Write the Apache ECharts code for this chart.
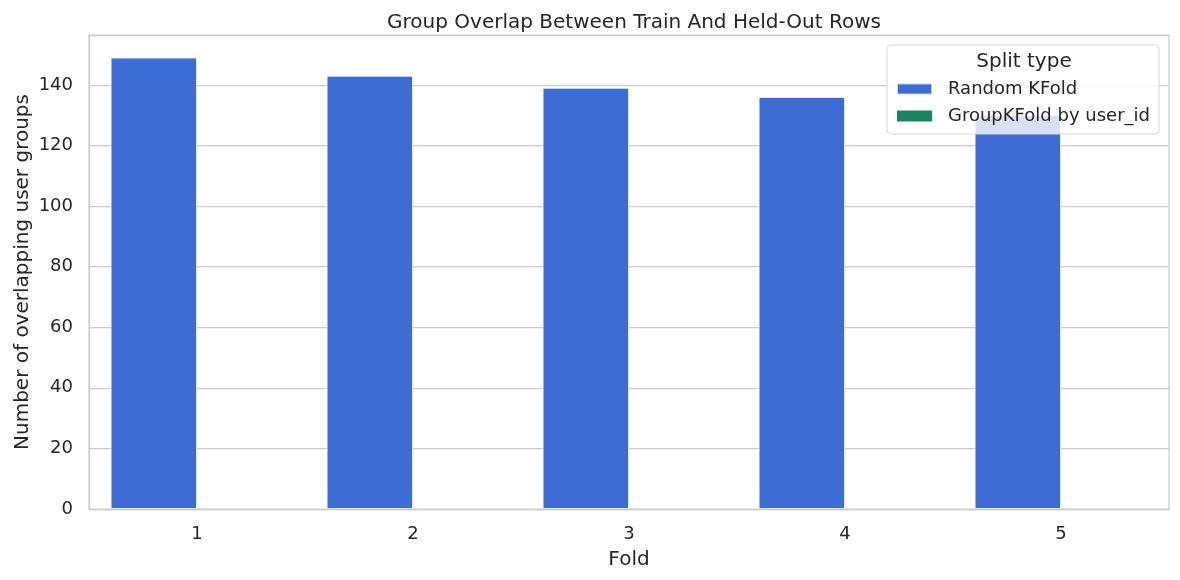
<!DOCTYPE html>
<html>
<head>
<meta charset="utf-8">
<script src="https://cdn.jsdelivr.net/npm/echarts@6/dist/echarts.min.js"></script>
<style>html,body{margin:0;padding:0;background:#fff}#c{width:1180px;height:580px}</style>
</head>
<body>
<div id="c"></div>
<script>
const folds = ['1', '2', '3', '4', '5'];
const randomKFold = [149, 143, 139, 136, 130];
const groupKFold = [0, 0, 0, 0, 0];
const seriesNames = ['Random KFold', 'GroupKFold by user_id'];
const yTicks = [0, 20, 40, 60, 80, 100, 120, 140];

const FONT = 'DejaVu Sans';
const TXT = '#262626';
const chart = echarts.init(document.getElementById('c'), null, {renderer: 'canvas'});
chart.setOption({
  animation: false,
  backgroundColor: '#ffffff',
  textStyle: {fontFamily: FONT, color: TXT},
  title: {
    text: 'Group Overlap Between Train And Held-Out Rows',
    left: 629, textAlign: 'center', top: 8,
    textStyle: {fontFamily: FONT, fontSize: 20, fontWeight: 'normal', color: TXT}
  },
  grid: {left: 89, right: 11, top: 35, bottom: 71, show: true, borderColor: '#cccccc', borderWidth: 1.25, backgroundColor: 'transparent'},
  xAxis: {
    type: 'category', data: folds,
    name: 'Fold', nameLocation: 'middle', nameGap: 41,
    nameTextStyle: {fontFamily: FONT, fontSize: 20, color: TXT},
    axisLine: {show: true, lineStyle: {color: '#cccccc', width: 1.25}},
    axisTick: {show: false},
    axisLabel: {fontFamily: FONT, fontSize: 18, color: TXT, margin: 16},
    splitLine: {show: false}
  },
  yAxis: {
    type: 'value', min: 0, max: 156.45, interval: 20,
    name: 'Number of overlapping user groups', nameLocation: 'middle', nameGap: 56,
    nameMoveOverlap: false,
    nameTextStyle: {fontFamily: FONT, fontSize: 20, color: TXT},
    axisLine: {show: true, lineStyle: {color: '#cccccc', width: 1.25}},
    axisTick: {show: false},
    axisLabel: {fontFamily: FONT, fontSize: 18, color: TXT, margin: 16,
      formatter: v => yTicks.indexOf(v) >= 0 ? String(v) : ''},
    splitLine: {show: true, lineStyle: {color: '#cccccc', width: 1.25}}
  },
  legend: {
    orient: 'vertical', left: 896, top: 80, padding: 0, itemGap: 9,
    itemWidth: 35, itemHeight: 11, z: 120,
    icon: 'rect',
    data: seriesNames,
    textStyle: {fontFamily: FONT, fontSize: 18, color: TXT, padding: [0, 0, 0, 11]}
  },
  graphic: [
    {type: 'rect', z: 100, shape: {x: 887, y: 45, width: 272, height: 89, r: 4},
      style: {fill: 'rgba(255,255,255,0.8)', stroke: '#d6d6d6', lineWidth: 1}},
    {type: 'text', z: 110, x: 1024, y: 62,
      style: {text: 'Split type', font: '20px "DejaVu Sans"', fill: TXT, textAlign: 'center', textVerticalAlign: 'middle'}}
  ],
  series: [
    {name: seriesNames[0], type: 'bar', data: randomKFold, barGap: '0%', barCategoryGap: '20%',
      itemStyle: {color: '#3d6dd4', borderColor: 'rgba(255,255,255,0.7)', borderWidth: 1}},
    {name: seriesNames[1], type: 'bar', data: groupKFold, barGap: '0%', barCategoryGap: '20%',
      itemStyle: {color: '#178560', borderWidth: 0}}
  ]
});
</script>
</body>
</html>
